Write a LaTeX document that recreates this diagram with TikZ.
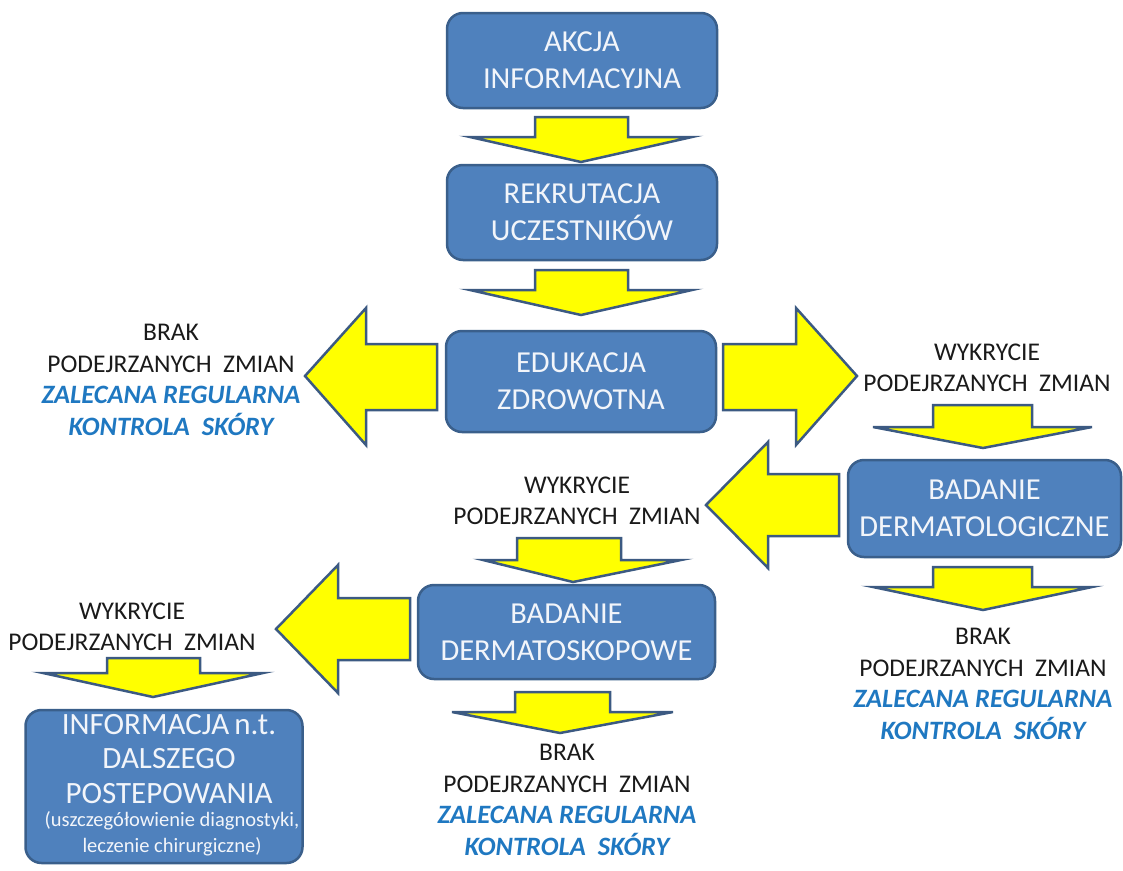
\documentclass[tikz,border=0pt]{standalone}
\usepackage{fontspec}
\setmainfont{Carlito}
\definecolor{boxblue}{HTML}{4F81BD}
\definecolor{boxline}{HTML}{3A5F8B}
\definecolor{arryel}{HTML}{FFFF00}
\definecolor{arrline}{HTML}{3C5A82}
\definecolor{labblue}{HTML}{1F78C1}
\definecolor{labblack}{HTML}{1A1A1A}
\definecolor{boxtext}{HTML}{F2F5FA}
\newcommand\recomfont{\color{labblue}\fontsize{26.5}{31.5}\selectfont\bfseries\itshape}
\begin{document}
\begin{tikzpicture}[x=1pt,y=-1pt,
  stepbox/.style={draw=boxline, fill=boxblue, line width=2.5pt, rounded corners=16pt,
    text=boxtext, align=center, font=\fontsize{30.5}{37}\selectfont, inner sep=0pt},
  boxlines/.style={text=boxtext, align=center, inner sep=0pt},
  blockarr/.style={draw=arrline, fill=arryel, line width=2.5pt, line join=miter},
  lab/.style={align=center, text=labblack, font=\fontsize{25.5}{31.5}\selectfont, inner sep=0pt}
]
\useasboundingbox (0,0) rectangle (1123,870);

% boxes
\node[stepbox, minimum width=270pt, minimum height=95pt] (akcja) at (582,60.5) {AKCJA\\INFORMACYJNA};
\node[stepbox, minimum width=270pt, minimum height=95pt] (rekr) at (582,212.5) {REKRUTACJA\\UCZESTNIKÓW};
\node[stepbox, minimum width=270pt, minimum height=101pt] (edu) at (581,381.5) {EDUKACJA\\ZDROWOTNA};
\node[stepbox, minimum width=273pt, minimum height=97pt] (dermlog) at (984.5,508.5) {BADANIE\\DERMATOLOGICZNE};
\node[stepbox, minimum width=297pt, minimum height=94pt] (dermsk) at (566.5,632) {BADANIE\\DERMATOSKOPOWE};
\node[stepbox, minimum width=277pt, minimum height=153pt] (info) at (164,786.5) {};
\node[boxlines, font=\fontsize{31}{34.5}\selectfont] (infotxt) at (169,759) {INFORMACJA\,n.t.\\DALSZEGO\\POSTEPOWANIA};
\node[boxlines, font=\fontsize{20.5}{26}\selectfont] (infosub) at (172,834) {(uszczegółowienie diagnostyki,\\leczenie chirurgiczne)};

% labels
\node[lab] (brak1) at (171,380) {BRAK\\PODEJRZANYCH\ \ ZMIAN\\{\recomfont ZALECANA REGULARNA}\\{\recomfont KONTROLA\ \ SKÓRY}};
\node[lab] (wyk1) at (987,368) {WYKRYCIE\\PODEJRZANYCH\ \ ZMIAN};
\node[lab] (wyk2) at (577,501) {WYKRYCIE\\PODEJRZANYCH\ \ ZMIAN};
\node[lab] (brak2) at (983,684) {BRAK\\PODEJRZANYCH\ \ ZMIAN\\{\recomfont ZALECANA REGULARNA}\\{\recomfont KONTROLA\ \ SKÓRY}};
\node[lab] (wyk3) at (132,627) {WYKRYCIE\\PODEJRZANYCH\ \ ZMIAN};
\node[lab] (brak3) at (567,800) {BRAK\\PODEJRZANYCH\ \ ZMIAN\\{\recomfont ZALECANA REGULARNA}\\{\recomfont KONTROLA\ \ SKÓRY}};

% down arrows
\draw[blockarr] (535,117) -- (628,117) -- (628,137) -- (692,137) -- (581,162) -- (470,137) -- (535,137) -- cycle;
\draw[blockarr] (535,270) -- (628,270) -- (628,290) -- (692,290) -- (581,315) -- (470,290) -- (535,290) -- cycle;
\draw[blockarr] (933,405) -- (1032,405) -- (1032,427) -- (1092,427) -- (983,448) -- (873,427) -- (933,427) -- cycle;
\draw[blockarr] (933,567) -- (1032,567) -- (1032,587) -- (1092,587) -- (983,610) -- (873,587) -- (933,587) -- cycle;
\draw[blockarr] (517,538) -- (621,538) -- (621,560) -- (681,560) -- (573,582) -- (483,560) -- (517,560) -- cycle;
\draw[blockarr] (515,692) -- (610,692) -- (610,712) -- (673,712) -- (560,733) -- (452,712) -- (515,712) -- cycle;
\draw[blockarr] (107,658) -- (200,658) -- (200,673) -- (263,673) -- (153,697) -- (43,673) -- (107,673) -- cycle;

% horizontal arrows
\draw[blockarr] (437,344) -- (366,344) -- (366,308) -- (305,376) -- (366,445) -- (366,410) -- (437,410) -- cycle;
\draw[blockarr] (723,344) -- (796,344) -- (796,308) -- (857,376) -- (796,445) -- (796,410) -- (723,410) -- cycle;
\draw[blockarr] (839,474) -- (768,474) -- (768,442) -- (706,505) -- (768,568) -- (768,536) -- (839,536) -- cycle;
\draw[blockarr] (410,598) -- (338,598) -- (338,565) -- (276,629) -- (338,693) -- (338,660) -- (410,660) -- cycle;
\end{tikzpicture}
\end{document}
